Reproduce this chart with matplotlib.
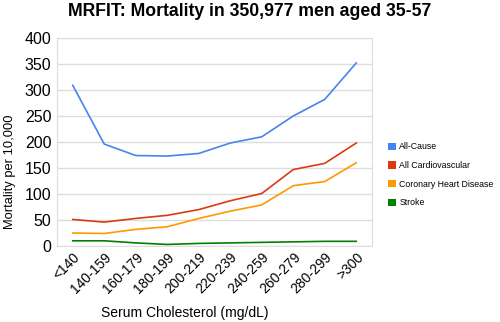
import matplotlib.pyplot as plt
from matplotlib.patches import Patch

plt.rcParams['font.family'] = ['Liberation Sans', 'DejaVu Sans']

categories = ["<140", "140-159", "160-179", "180-199", "200-219",
              "220-239", "240-259", "260-279", "280-299", ">300"]
all_cause = [309, 196, 174, 173, 178, 198, 210, 250, 282, 352]
all_cardio = [51, 46, 53, 59, 70, 87, 101, 147, 159, 198]
chd = [25, 24, 32, 37, 53, 67, 79, 116, 124, 160]
stroke = [10, 10, 6, 3, 5, 6, 7, 8, 9, 9]

series = [
    ("All-Cause", all_cause, "#4684ee"),
    ("All Cardiovascular", all_cardio, "#dc3912"),
    ("Coronary Heart Disease", chd, "#ff9900"),
    ("Stroke", stroke, "#008000"),
]

fig = plt.figure(figsize=(5, 3.22), dpi=100)
ax = fig.add_axes([0.114, 0.236, 0.630, 0.646])

x = list(range(len(categories)))
for name, vals, col in series:
    ax.plot(x, vals, color=col, lw=1.2, label=name)

ax.set_xlim(-0.5, len(categories) - 0.5)
ax.set_ylim(0, 400)
ax.set_yticks(range(0, 401, 50))
ax.set_xticks(x)
ax.set_xticklabels(categories, rotation=45, ha="right", rotation_mode="anchor",
                   fontsize=10)
ax.tick_params(axis="y", labelsize=11.5, length=0, pad=4)
ax.tick_params(axis="x", length=0, pad=3)
ax.grid(axis="y", color="#dddddd", lw=1)
ax.set_axisbelow(True)
for s in ax.spines.values():
    s.set_color("#dddddd")

ax.set_ylabel("Mortality per 10,000", fontsize=9.3, va="center", ha="center")
ax.yaxis.set_label_coords(-0.149, 0.356)
ax.set_xlabel("Serum Cholesterol (mg/dL)", fontsize=10, va="center",
              ha="center")
ax.xaxis.set_label_coords(0.406, -0.32)
fig.suptitle("MRFIT: Mortality in 350,977 men aged 35-57", fontsize=12.7,
             fontweight="bold", x=0.5, y=0.99)

handles = [Patch(facecolor=c, edgecolor="none") for _, _, c in series]
fig.legend(handles, [n for n, _, _ in series], loc="upper left",
           bbox_to_anchor=(0.76, 0.582), frameon=False, fontsize=6.3,
           handlelength=0.95, handleheight=0.95, handletextpad=0.35,
           labelspacing=1.1)

fig.savefig("out.png", dpi=100)
